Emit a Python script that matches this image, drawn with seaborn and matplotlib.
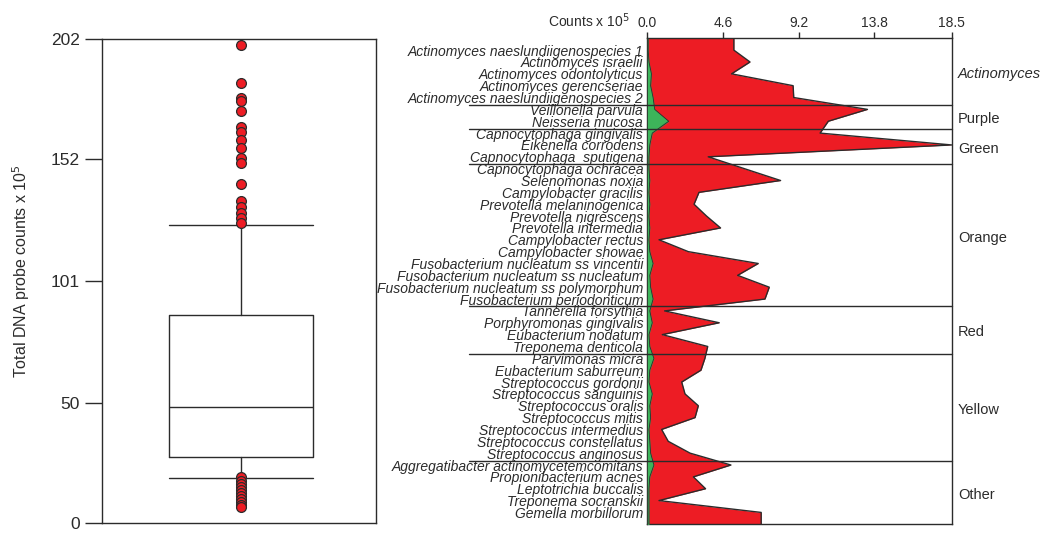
import numpy as np
import pandas as pd
import matplotlib
matplotlib.use("Agg")
import matplotlib.pyplot as plt
import seaborn as sns

# ---------------- data ----------------
species = [
    "Actinomyces naeslundiigenospecies 1", "Actinomyces israelii", "Actinomyces odontolyticus",
    "Actinomyces gerencseriae", "Actinomyces naeslundiigenospecies 2",
    "Veillonella parvula", "Neisseria mucosa",
    "Capnocytophaga gingivalis", "Eikenella corrodens", "Capnocytophaga  sputigena",
    "Capnocytophaga ochracea", "Selenomonas noxia", "Campylobacter gracilis",
    "Prevotella melaninogenica", "Prevotella nigrescens", "Prevotella intermedia",
    "Campylobacter rectus", "Campylobacter showae", "Fusobacterium nucleatum ss vincentii",
    "Fusobacterium nucleatum ss nucleatum", "Fusobacterium nucleatum ss polymorphum",
    "Fusobacterium periodonticum",
    "Tannerella forsythia", "Porphyromonas gingivalis", "Eubacterium nodatum", "Treponema denticola",
    "Parvimonas micra", "Eubacterium saburreum", "Streptococcus gordonii", "Streptococcus sanguinis",
    "Streptococcus oralis", "Streptococcus mitis", "Streptococcus intermedius",
    "Streptococcus constellatus", "Streptococcus anginosus",
    "Aggregatibacter actinomycetemcomitans", "Propionibacterium acnes", "Leptotrichia buccalis",
    "Treponema socranskii", "Gemella morbillorum",
]
red_counts = [
    5.26, 6.24, 5.12, 8.86, 8.9,
    13.38, 11.0,
    10.5, 18.5, 3.7,
    5.9, 8.1, 3.14, 2.84, 3.6, 4.45, 0.71, 2.49, 6.74, 5.49, 7.41, 7.15,
    1.05, 4.37, 0.91, 3.67,
    3.5, 3.26, 2.09, 2.29, 3.1, 2.9, 0.87, 1.27, 2.6,
    5.08, 2.8, 3.54, 0.71, 6.92,
]
green_counts = [
    0.05, 0.1, 0.25, 0.2, 0.35,
    0.45, 1.3,
    0.3, 0.15, 0.1,
    0.1, 0.15, 0.1, 0.15, 0.1, 0.15, 0.1, 0.15, 0.35, 0.15, 0.2, 0.35,
    0.15, 0.3, 0.1, 0.15,
    0.4, 0.15, 0.1, 0.3, 0.15, 0.2, 0.1, 0.15, 0.2,
    0.4, 0.15, 0.1, 0.1, 0.1,
]
groups = ["Actinomyces", "Purple", "Green", "Orange", "Red", "Yellow", "Other"]
group_sizes = [5, 2, 3, 12, 4, 9, 5]
count_ticks = [0.0, 4.6, 9.2, 13.8, 18.5]

# box summary (10th/90th percentile whiskers)
box_q1, box_median, box_q3 = 27.8, 48.4, 86.9
whisker_low, whisker_high = 19.0, 124.5
outliers_high = [199.6, 183.6, 177.6, 176.3, 172.2, 165.5, 163.4, 160.0, 156.5,
                 152.6, 150.5, 141.5, 134.6, 132.1, 129.6, 127.3, 125.2]
outliers_low = [19.2, 17.8, 16.5, 15.2, 14.0, 12.8, 11.5, 10.2, 9.0, 7.8, 6.8]
total_ticks = [0, 50, 101, 152, 202]

# ---------------- style ----------------
sns.set_theme(style="white")
plt.rcParams["font.family"] = ["Liberation Sans", "DejaVu Sans"]
DARK = "#2b2b2b"
RED = "#ED1C24"
GREEN = "#3DB45A"

fig = plt.figure(figsize=(10.5, 5.42), dpi=100)

# ---------------- left: box plot ----------------
axL = fig.add_axes([0.0974, 0.0345, 0.2607, 0.893])
stats = [dict(med=box_median, q1=box_q1, q3=box_q3, whislo=whisker_low,
              whishi=whisker_high, fliers=[])]
lp = dict(color=DARK, linewidth=1.0)
axL.bxp(stats, positions=[0], widths=0.527, showfliers=False,
        boxprops=lp, whiskerprops=lp, capprops=dict(color=DARK, linewidth=1.0),
        medianprops=lp, capwidths=0.527)
out_df = pd.DataFrame({"x": 0.0, "v": outliers_high + outliers_low})
sns.scatterplot(data=out_df, x="x", y="v", ax=axL, color=RED, edgecolor=DARK,
                linewidth=0.9, s=50, zorder=5, clip_on=False, legend=False)
axL.set_xlim(-0.507, 0.493)
axL.set_ylim(0, 202)
axL.set_yticks(total_ticks)
axL.set_yticklabels([str(t) for t in total_ticks])
axL.set_xticks([])
axL.set_xlabel("")
axL.set_ylabel("Total DNA probe counts x 10$^5$", fontsize=11.5, color=DARK)
axL.yaxis.set_label_coords(-0.255, 0.52)
axL.tick_params(axis="y", length=12, width=1.0, color=DARK, direction="out",
                labelsize=12.5, labelcolor=DARK, pad=4, left=True)
for s in axL.spines.values():
    s.set_color(DARK)
    s.set_linewidth(1.0)

# ---------------- right: stacked area profile ----------------
axR = fig.add_axes([0.6165, 0.0327, 0.2899, 0.8967])
pos = np.arange(len(species))
ext_pos = np.concatenate([[-1], pos, [len(species)]])
ext_red = np.concatenate([[red_counts[0]], red_counts, [red_counts[-1]]])
ext_green = np.concatenate([[green_counts[0]], green_counts, [green_counts[-1]]])

axR.fill_betweenx(ext_pos, 0, ext_red, color=RED, linewidth=0, zorder=1)
sns.lineplot(x=ext_red, y=ext_pos, orient="y", sort=False, estimator=None,
             color=DARK, linewidth=1.0, ax=axR, zorder=2)
axR.fill_betweenx(ext_pos, 0, ext_green, color=GREEN, linewidth=0, zorder=3)
sns.lineplot(x=ext_green, y=ext_pos, orient="y", sort=False, estimator=None,
             color=DARK, linewidth=0.6, ax=axR, zorder=4)

axR.set_xlim(0, count_ticks[-1])
axR.set_ylim(len(species), -1)
axR.xaxis.tick_top()
axR.set_xticks(count_ticks)
axR.set_xticklabels([f"{t:.1f}" for t in count_ticks])
axR.set_yticks(pos)
axR.set_yticklabels(species, fontstyle="italic")
axR.set_xlabel("")
axR.set_ylabel("")
axR.tick_params(axis="x", top=True, bottom=False, length=4.5, width=1.0, color=DARK,
                direction="out", labelsize=10, labelcolor=DARK, pad=1.5)
axR.tick_params(axis="y", length=0, labelsize=10, labelcolor=DARK, pad=3)
for s in axR.spines.values():
    s.set_color(DARK)
    s.set_linewidth(1.0)

axR.text(-0.057, 1.036, "Counts x 10$^5$", transform=axR.transAxes, ha="right",
         va="center", fontsize=10, color=DARK)

# group separators and labels
ends = np.cumsum(group_sizes)
line_pos = ends - 1 + 0.62
bounds = np.concatenate([[-1], line_pos[:-1], [len(species)]])
ytr = axR.get_yaxis_transform()
for k, g in enumerate(groups):
    if k < len(groups) - 1:
        axR.plot([-0.586, 1.0], [line_pos[k]] * 2, transform=ytr, color=DARK,
                 linewidth=1.0, clip_on=False, zorder=6)
    centre = (bounds[k] + bounds[k + 1]) / 2 + 0.2
    axR.text(1.021, centre, g, transform=ytr, ha="left", va="center", fontsize=10.5,
             color=DARK, fontstyle="italic" if g == "Actinomyces" else "normal")

fig.savefig("out.png", dpi=100)
